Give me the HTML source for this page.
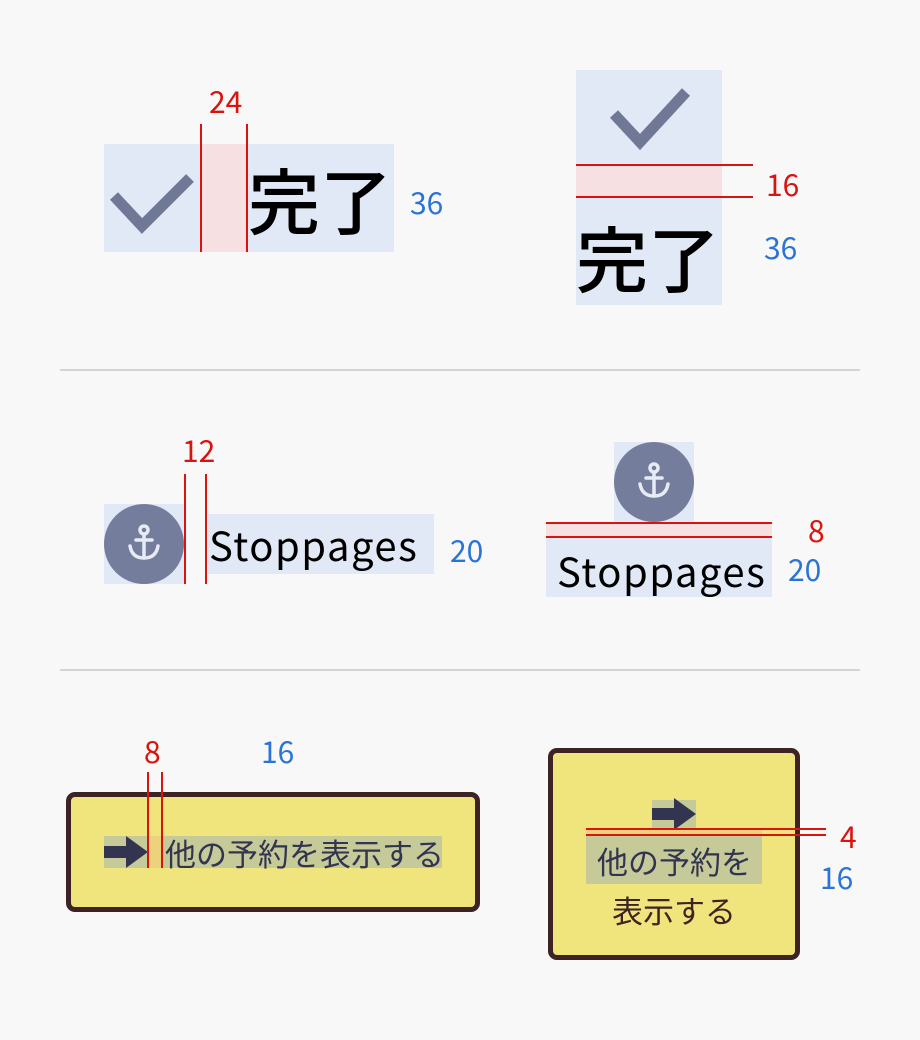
<!DOCTYPE html>
<html><head><meta charset="utf-8"><style>
body{margin:0;width:920px;height:1040px;background:#f8f8f8;position:relative;overflow:hidden;font-family:"Liberation Sans","Noto Sans CJK JP",sans-serif}
div,span{position:absolute;box-sizing:border-box}
.r{color:#d9140e;font-size:30px;line-height:1;white-space:nowrap;font-family:"Noto Sans CJK JP",sans-serif}
.b{color:#2a74d6;font-size:30px;line-height:1;white-space:nowrap;font-family:"Noto Sans CJK JP",sans-serif}
.vl{width:2px;background:#d9140e}
.hl{height:2px;background:#d9140e}
.bg{background:#e1e9f6}
.pk{background:#f7e0e1}
.jp{font-family:"Noto Sans CJK JP",sans-serif;white-space:nowrap;line-height:1}
.st{font-family:"Noto Sans CJK JP",sans-serif;font-size:40px;line-height:1;color:#000;letter-spacing:1.5px;white-space:nowrap}
</style></head><body>
<svg width="0" height="0" style="position:absolute"><defs>
<g id="anc" fill="none" stroke="#e6ebf5" stroke-width="3.5" stroke-linecap="round"><circle cx="0" cy="-14" r="4"/><line x1="0" y1="-10" x2="0" y2="14"/><line x1="-8" y1="-4" x2="8" y2="-4"/><path d="M-14,2 Q-12,14 0,14 Q12,14 14,2"/></g>
<path id="arr" d="M0,10h22v-10l22,16-22,16v-10H0z" fill="#33344f"/>
</defs></svg>
<!-- Section 1 left -->
<div class="bg" style="left:104px;top:144px;width:290px;height:108px"></div>
<div class="pk" style="left:201px;top:144px;width:46px;height:108px"></div>
<div class="vl" style="left:200px;top:124px;height:128px"></div>
<div class="vl" style="left:246px;top:124px;height:128px"></div>
<div class="r" style="left:209px;top:85px">24</div>
<svg style="position:absolute;left:104px;top:144px" width="96" height="108"><polyline points="10,52 38,82 86,34" fill="none" stroke="#6f7894" stroke-width="11"/></svg>
<div class="jp" style="left:248px;top:162px;font-size:72px;font-weight:500;color:#000">完了</div>
<div class="b" style="left:410px;top:186px">36</div>
<!-- Section 1 right -->
<div class="bg" style="left:576px;top:70px;width:146px;height:235px"></div>
<div class="pk" style="left:576px;top:165px;width:146px;height:32px"></div>
<div class="hl" style="left:576px;top:164px;width:177px"></div>
<div class="hl" style="left:576px;top:196px;width:177px"></div>
<div class="r" style="left:766px;top:168px">16</div>
<svg style="position:absolute;left:600px;top:70px" width="100" height="95"><polyline points="14,44 40,72 86,22" fill="none" stroke="#6f7894" stroke-width="11"/></svg>
<div class="jp" style="left:576px;top:220px;font-size:72px;font-weight:500;color:#000">完了</div>
<div class="b" style="left:764px;top:231px">36</div>
<div style="left:60px;top:369px;width:800px;height:2px;background:#d4d4d4"></div>
<!-- Section 2 left -->
<div class="bg" style="left:104px;top:504px;width:80px;height:80px"></div>
<div style="left:104px;top:504px;width:80px;height:80px;border-radius:50%;background:#747d9c"></div>
<svg style="position:absolute;left:104px;top:504px" width="80" height="80"><use href="#anc" x="40" y="40"/></svg>
<div class="vl" style="left:184px;top:474px;height:110px"></div>
<div class="vl" style="left:205px;top:474px;height:110px"></div>
<div class="r" style="left:182px;top:434px">12</div>
<div class="bg" style="left:208px;top:514px;width:226px;height:60px"></div>
<div class="st" style="left:209px;top:524px">Stoppages</div>
<div class="b" style="left:450px;top:534px">20</div>
<!-- Section 2 right -->
<div class="bg" style="left:614px;top:442px;width:80px;height:80px"></div>
<div style="left:614px;top:442px;width:80px;height:80px;border-radius:50%;background:#747d9c"></div>
<svg style="position:absolute;left:614px;top:442px" width="80" height="80"><use href="#anc" x="40" y="40"/></svg>
<div class="pk" style="left:546px;top:523px;width:226px;height:14px"></div>
<div class="hl" style="left:546px;top:522px;width:226px"></div>
<div class="hl" style="left:546px;top:536px;width:226px"></div>
<div class="r" style="left:808px;top:514px">8</div>
<div class="bg" style="left:546px;top:538px;width:226px;height:59px"></div>
<div class="st" style="left:557px;top:550px">Stoppages</div>
<div class="b" style="left:788px;top:553px">20</div>
<div style="left:60px;top:669px;width:800px;height:2px;background:#d4d4d4"></div>
<!-- Section 3 left -->
<div style="left:66px;top:792px;width:414px;height:120px;border:5px solid #3d2323;border-radius:9px;background:#f0e47c"></div>
<div style="left:104px;top:836px;width:338px;height:32px;background:#c6ca98"></div>
<div style="left:148px;top:836px;width:15px;height:32px;background:#ecd27a"></div>
<svg style="position:absolute;left:104px;top:836px" width="44" height="32"><use href="#arr"/></svg>
<div class="vl" style="left:147px;top:772px;height:96px"></div>
<div class="vl" style="left:161px;top:772px;height:96px"></div>
<div class="r" style="left:144px;top:735px">8</div>
<div class="b" style="left:261px;top:735px">16</div>
<div class="jp" style="left:165px;top:837px;font-size:31px;color:#33344f">他の予約を表示する</div>
<!-- Section 3 right -->
<div style="left:548px;top:748px;width:252px;height:212px;border:5px solid #3d2323;border-radius:9px;background:#f0e47c"></div>
<div style="left:652px;top:800px;width:44px;height:28px;background:#c6ca98"></div>
<svg style="position:absolute;left:652px;top:798px" width="44" height="32"><use href="#arr"/></svg>
<div class="pk" style="left:586px;top:830px;width:176px;height:5px;background:#ecd27a"></div>
<div class="hl" style="left:586px;top:828px;width:240px"></div>
<div class="hl" style="left:586px;top:834px;width:240px"></div>
<div class="r" style="left:840px;top:820px">4</div>
<div style="left:586px;top:836px;width:176px;height:48px;background:#c6ca98"></div>
<div class="jp" style="left:597px;top:845px;font-size:31px;color:#33344f">他の予約を</div>
<div class="jp" style="left:612px;top:894px;font-size:31px;color:#3d2323">表示する</div>
<div class="b" style="left:820px;top:861px">16</div>
</body></html>
